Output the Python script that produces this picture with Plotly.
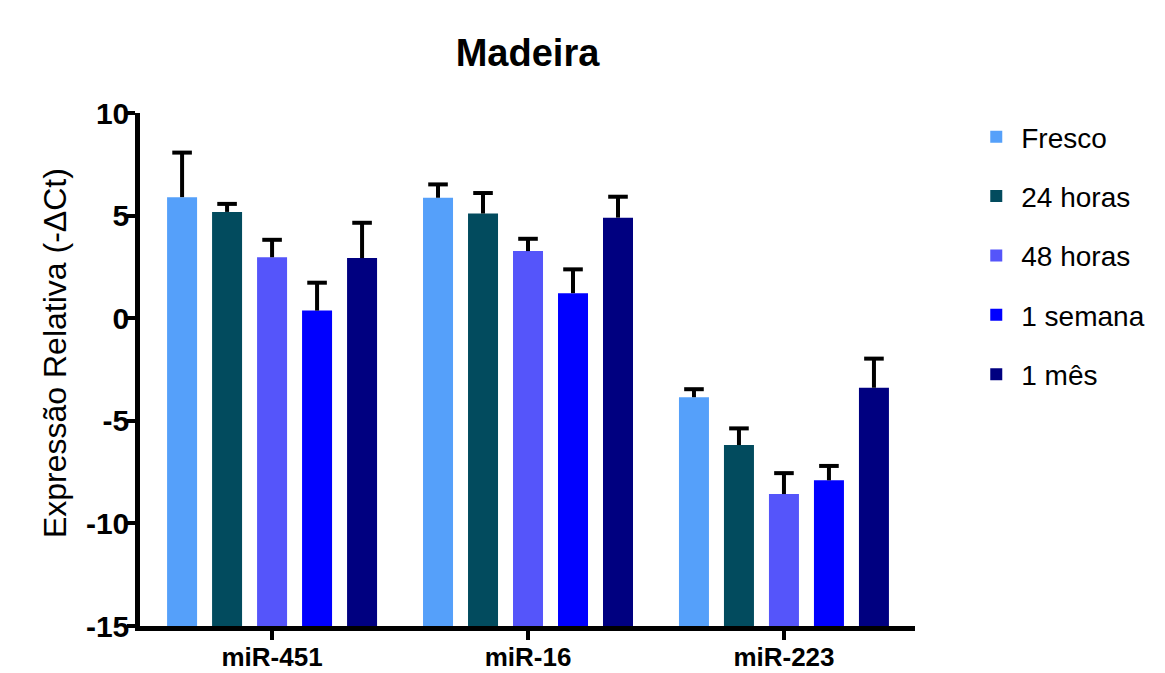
import plotly.graph_objects as go

categories = ["miR-451", "miR-16", "miR-223"]
series_names = ["Fresco", "24 horas", "48 horas", "1 semana", "1 mês"]
colors = ["#55A0FA", "#024B5E", "#5555FA", "#0000FF", "#000080"]

fresco = [5.9, 5.87, -3.85]
h24 = [5.18, 5.1, -6.18]
h48 = [2.97, 3.27, -8.57]
semana = [0.37, 1.22, -7.9]
mes = [2.93, 4.9, -3.39]
values = [fresco, h24, h48, semana, mes]

err_fresco = [2.17, 0.65, 0.39]
err_h24 = [0.39, 1.0, 0.81]
err_h48 = [0.85, 0.6, 1.02]
err_semana = [1.36, 1.16, 0.7]
err_mes = [1.72, 1.02, 1.42]
errors = [err_fresco, err_h24, err_h48, err_semana, err_mes]

yticks = [10, 5, 0, -5, -10, -15]
baseline = -15  # bars are drawn from the bottom of the axis, as in GraphPad

FONT = "Liberation Sans, Arial, sans-serif"

fig = go.Figure()
for i, name in enumerate(series_names):
    fig.add_trace(go.Bar(
        x=categories,
        y=[v - baseline for v in values[i]],
        base=[baseline] * len(values[i]),
        customdata=values[i],
        hovertemplate="%{x}: %{customdata}<extra>" + name + "</extra>",
        name=name,
        marker=dict(color=colors[i], line=dict(width=0)),
        legendgroup=name,
        error_y=dict(type="data", symmetric=False, array=errors[i],
                     arrayminus=[0] * len(errors[i]),
                     color="black", thickness=4, width=0),
    ))
# caps of the (one-sided) error bars
for i, name in enumerate(series_names):
    fig.add_trace(go.Scatter(
        x=categories,
        y=[v + e for v, e in zip(values[i], errors[i])],
        mode="markers", showlegend=False, hoverinfo="skip",
        legendgroup=name,
        marker=dict(symbol="line-ew", size=14, color="black",
                    line=dict(width=4, color="black")),
    ))

fig.update_layout(
    width=1165, height=673,
    margin=dict(l=140, r=250, t=113, b=47, autoexpand=False),
    plot_bgcolor="white", paper_bgcolor="white",
    barmode="group", bargap=0.121, bargroupgap=1/3,
    scattermode="group", scattergap=0.121,
    title=dict(text="<b>Madeira</b>", x=0.5, xref="paper", y=0.921, yanchor="middle",
               font=dict(family=FONT, size=38, color="black")),
    font=dict(family=FONT, color="black"),
    showlegend=True,
    legend=dict(x=1.0726, y=1.002, xanchor="left", yanchor="top",
                font=dict(family=FONT, size=28, color="black"),
                traceorder="grouped", tracegroupgap=20,
                itemwidth=40, bgcolor="rgba(0,0,0,0)"),
    xaxis=dict(range=[-0.516, 2.512], showline=True, linecolor="black", linewidth=4.5,
               ticks="outside", ticklen=9, tickwidth=4, tickcolor="black",
               ticklabelstandoff=-5,
               tickfont=dict(family=FONT, size=26, color="black"),
               tickvals=categories, ticktext=["<b>%s</b>" % c for c in categories],
               showgrid=False, zeroline=False, automargin=False),
    yaxis=dict(range=[-15, 10], showline=True, linecolor="black", linewidth=4.5,
               ticks="outside", ticklen=8, tickwidth=4, tickcolor="black",
               ticklabelstandoff=-8,
               tickvals=yticks, ticktext=["<b>%d</b>" % t for t in yticks],
               tickfont=dict(family=FONT, size=30, color="black"),
               showgrid=False, zeroline=False, automargin=False),
    annotations=[dict(text="Expressão Relativa (-ΔCt)", textangle=-90,
                      xref="paper", yref="paper", x=-0.1097, y=0.532,
                      xanchor="center", yanchor="middle", showarrow=False,
                      font=dict(family=FONT, size=32, color="black"))],
)

fig.write_html("out.html", config={"displayModeBar": False},
               post_script="document.body.style.margin='0';document.body.style.overflow='hidden';")
